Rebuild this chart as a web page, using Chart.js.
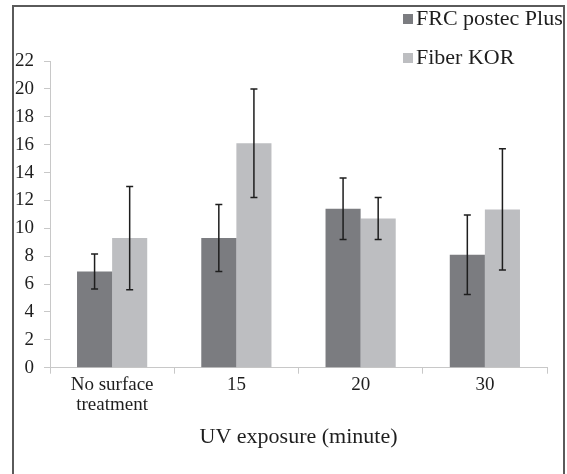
<!DOCTYPE html>
<html>
<head>
<meta charset="utf-8">
<script src="https://cdn.jsdelivr.net/npm/chart.js@4.4.0/dist/chart.umd.min.js"></script>
<style>
  html, body { margin: 0; padding: 0; background: #fff; }
  #wrap { position: relative; width: 567px; height: 474px; overflow: hidden; }
  #frame { position: absolute; left: 12px; top: 5px; width: 549px; height: 490px; border: 2px solid #5a5a5a; }
  canvas { position: absolute; left: 0; top: 0; }
</style>
</head>
<body>
<div id="wrap">
  <div id="frame"></div>
  <canvas id="uv-chart" width="567" height="474"></canvas>
</div>
<script>
// values
const categories = [["No surface", "treatment"], "15", "20", "30"]
const seriesNames = ["FRC postec Plus", "Fiber KOR"]
const frcMean = [6.9, 9.3, 11.4, 8.1]
const frcErr = [1.25, 2.4, 2.2, 2.85]
const korMean = [9.3, 16.1, 10.7, 11.35]
const korErr = [3.7, 3.9, 1.5, 4.35]
const colors = ["#7b7c80", "#bdbec1"]

const serif = "'Liberation Serif', 'DejaVu Serif', serif"

// draws the whiskers from the err arrays using the chart's own scales
const errorBars = {
  id: "errorBars",
  afterDatasetsDraw(chart) {
    const ctx = chart.ctx
    const y = chart.scales.y
    ctx.save()
    ctx.strokeStyle = "#1e1e1e"
    ctx.lineWidth = 1.5
    chart.data.datasets.forEach((ds, i) => {
      const meta = chart.getDatasetMeta(i)
      meta.data.forEach((bar, j) => {
        const v = ds.data[j], e = ds.err[j]
        const top = y.getPixelForValue(v + e)
        const bot = y.getPixelForValue(v - e)
        const x = bar.x
        ctx.beginPath()
        ctx.moveTo(x, top); ctx.lineTo(x, bot)
        ctx.moveTo(x - 3.5, top); ctx.lineTo(x + 3.5, top)
        ctx.moveTo(x - 3.5, bot); ctx.lineTo(x + 3.5, bot)
        ctx.stroke()
      })
    })
    ctx.restore()
  }
}

// stacked legend in the top right corner
const stackedLegend = {
  id: "stackedLegend",
  afterDraw(chart) {
    const ctx = chart.ctx
    ctx.save()
    ctx.font = "22px " + serif
    ctx.textBaseline = "middle"
    chart.data.datasets.forEach((ds, i) => {
      const yy = 19 + i * 39
      ctx.fillStyle = ds.backgroundColor
      ctx.fillRect(403, yy - 5, 10, 10)
      ctx.fillStyle = "#1e1e1e"
      ctx.fillText(ds.label, 416, yy)
    })
    ctx.restore()
  }
}

new Chart("uv-chart", {
  type: "bar",
  data: {
    labels: categories,
    datasets: [
      { label: seriesNames[0], data: frcMean, err: frcErr, backgroundColor: colors[0] },
      { label: seriesNames[1], data: korMean, err: korErr, backgroundColor: colors[1] }
    ]
  },
  plugins: [errorBars, stackedLegend],
  options: {
    responsive: false,
    animation: false,
    layout: { padding: { top: 61, right: 20, left: 0, bottom: 20 } },
    plugins: {
      legend: { display: false },
      tooltip: { enabled: false }
    },
    datasets: {
      bar: { categoryPercentage: 0.565, barPercentage: 1.0 }
    },
    scales: {
      x: {
        grid: { drawOnChartArea: false, drawTicks: true, tickLength: 6, color: "#c8c8c8" },
        border: { color: "#c8c8c8" },
        ticks: { color: "#1e1e1e", font: { family: serif, size: 19, lineHeight: 1.05 }, padding: 1, maxRotation: 0 },
        title: { display: true, text: "UV exposure (minute)", color: "#1e1e1e", font: { family: serif, size: 22 }, padding: { top: 8 } }
      },
      y: {
        min: 0,
        max: 22,
        afterFit(s) { s.width = 50 },
        grid: { drawOnChartArea: false, drawTicks: true, tickLength: 6, color: "#c8c8c8" },
        border: { color: "#c8c8c8" },
        ticks: { stepSize: 2, color: "#1e1e1e", font: { family: serif, size: 19 }, padding: 10 }
      }
    }
  }
})
</script>
</body>
</html>
